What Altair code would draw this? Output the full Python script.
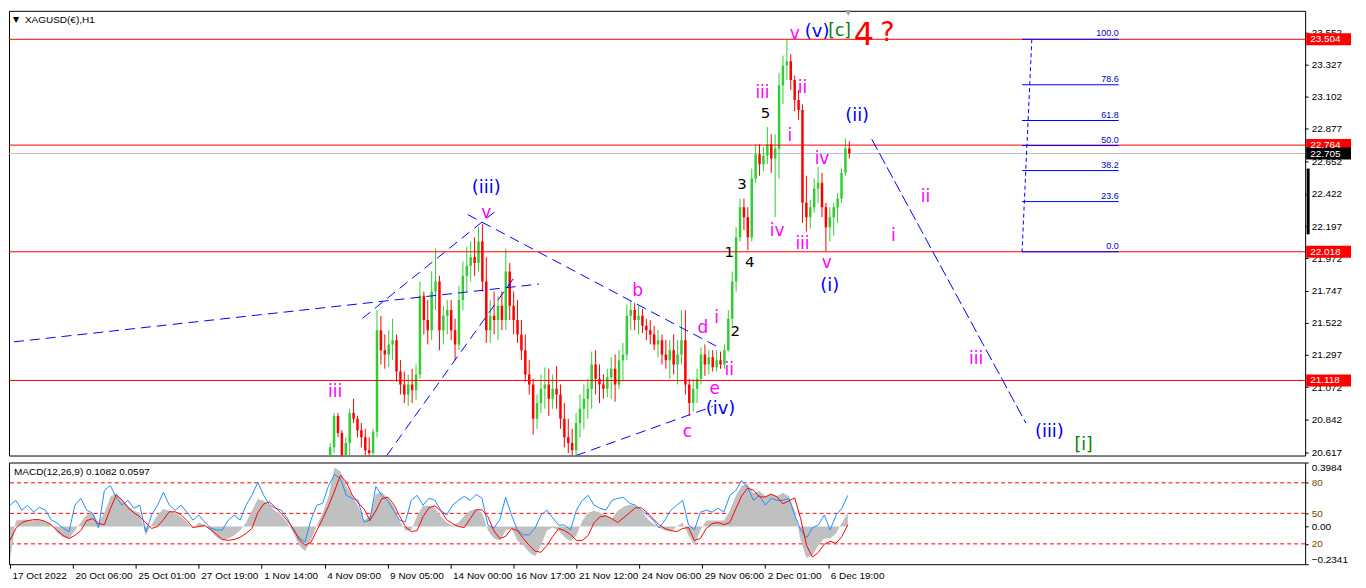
import altair as alt
import pandas as pd

# ---------------- price candles (H1 bars, grouped by 4) ----------------
candle_bar = list(range(323, 856, 4))
c_open = [20.44, 20.65, 20.87, 20.75, 20.59, 20.68, 20.89, 20.85, 20.77, 20.72,
          20.63, 20.61, 20.76, 21.47, 21.33, 21.30, 21.37, 21.40, 21.18, 21.09,
          21.02, 21.09, 21.05, 21.16, 21.71, 21.54, 21.47, 21.74, 21.81, 21.47,
          21.57, 21.61, 21.47, 21.37, 21.68, 21.85, 21.92, 21.98, 21.94, 22.09,
          21.81, 21.47, 21.57, 21.54, 21.64, 21.54, 21.88, 21.64, 21.54, 21.44,
          21.33, 21.16, 21.09, 20.85, 20.96, 21.06, 21.09, 20.99, 21.06, 21.02,
          20.85, 20.72, 20.68, 20.63, 20.82, 20.92, 20.99, 21.06, 21.23, 21.13,
          21.09, 21.06, 21.14, 21.20, 21.09, 21.26, 21.30, 21.57, 21.61, 21.54,
          21.57, 21.50, 21.47, 21.44, 21.37, 21.40, 21.30, 21.26, 21.33, 21.23,
          21.30, 21.40, 21.09, 20.96, 21.06, 21.13, 21.30, 21.23, 21.28, 21.21,
          21.26, 21.23, 21.33, 21.55, 21.81, 22.12, 22.33, 22.26, 22.12, 22.53,
          22.70, 22.63, 22.69, 22.77, 22.67, 22.74, 23.18, 23.32, 23.35, 23.22,
          23.08, 23.01, 22.36, 22.26, 22.33, 22.46, 22.50, 22.33, 22.19, 22.26,
          22.33, 22.39, 22.57, 22.74]
c_high = [20.68, 20.89, 20.89, 20.77, 20.72, 20.92, 20.99, 20.87, 20.82, 20.78,
          20.72, 20.78, 21.61, 21.57, 21.44, 21.47, 21.55, 21.44, 21.26, 21.18,
          21.16, 21.20, 21.23, 21.81, 21.74, 21.68, 21.88, 22.04, 21.85, 21.64,
          21.68, 21.68, 21.55, 21.78, 21.95, 22.05, 22.09, 22.12, 22.19, 22.21,
          21.98, 21.68, 21.74, 21.71, 21.74, 22.04, 21.94, 21.74, 21.68, 21.54,
          21.44, 21.26, 21.13, 21.02, 21.16, 21.21, 21.20, 21.16, 21.22, 21.09,
          20.96, 20.85, 20.78, 20.89, 21.02, 21.09, 21.13, 21.32, 21.33, 21.23,
          21.16, 21.20, 21.28, 21.30, 21.33, 21.38, 21.65, 21.68, 21.66, 21.64,
          21.62, 21.55, 21.54, 21.50, 21.47, 21.44, 21.40, 21.40, 21.44, 21.40,
          21.61, 21.61, 21.13, 21.13, 21.20, 21.35, 21.37, 21.33, 21.33, 21.33,
          21.32, 21.37, 21.61, 21.88, 22.19, 22.39, 22.39, 22.33, 22.60, 22.77,
          22.77, 22.75, 22.89, 22.84, 22.84, 23.27, 23.39, 23.50, 23.40, 23.25,
          23.15, 23.05, 22.55, 22.38, 22.53, 22.61, 22.57, 22.36, 22.33, 22.36,
          22.43, 22.60, 22.81, 22.79]
c_low = [20.41, 20.61, 20.72, 20.54, 20.51, 20.59, 20.82, 20.72, 20.65, 20.59,
         20.54, 20.58, 20.72, 21.23, 21.20, 21.21, 21.26, 21.11, 21.02, 20.96,
         20.94, 20.96, 20.98, 21.13, 21.44, 21.37, 21.40, 21.61, 21.33, 21.37,
         21.44, 21.40, 21.26, 21.33, 21.61, 21.74, 21.81, 21.85, 21.88, 21.74,
         21.38, 21.38, 21.44, 21.40, 21.47, 21.47, 21.54, 21.44, 21.38, 21.26,
         21.11, 21.02, 20.74, 20.78, 20.89, 20.92, 20.87, 20.92, 20.92, 20.78,
         20.65, 20.61, 20.59, 20.59, 20.72, 20.78, 20.85, 20.92, 21.02, 20.96,
         20.99, 21.00, 20.99, 20.97, 21.06, 21.11, 21.26, 21.47, 21.47, 21.44,
         21.45, 21.40, 21.37, 21.33, 21.28, 21.23, 21.20, 21.13, 21.16, 21.09,
         21.23, 21.02, 20.87, 20.90, 20.96, 21.09, 21.15, 21.16, 21.18, 21.18,
         21.20, 21.20, 21.32, 21.50, 21.74, 22.09, 22.17, 22.03, 22.09, 22.50,
         22.55, 22.58, 22.63, 22.57, 22.26, 22.53, 23.05, 23.22, 23.15, 23.00,
         22.94, 22.22, 22.16, 22.18, 22.29, 22.36, 22.26, 22.02, 22.09, 22.13,
         22.22, 22.36, 22.55, 22.67]
c_close = [20.65, 20.87, 20.75, 20.59, 20.68, 20.89, 20.85, 20.77, 20.72, 20.63,
           20.61, 20.76, 21.47, 21.33, 21.30, 21.37, 21.40, 21.18, 21.09, 21.02,
           21.09, 21.05, 21.16, 21.71, 21.54, 21.47, 21.74, 21.81, 21.47, 21.57,
           21.61, 21.47, 21.37, 21.68, 21.85, 21.92, 21.98, 21.94, 22.09, 21.81,
           21.47, 21.57, 21.54, 21.64, 21.54, 21.88, 21.64, 21.54, 21.44, 21.33,
           21.16, 21.09, 20.85, 20.96, 21.06, 21.09, 20.99, 21.06, 21.02, 20.85,
           20.72, 20.68, 20.63, 20.82, 20.92, 20.99, 21.06, 21.23, 21.13, 21.09,
           21.06, 21.14, 21.20, 21.09, 21.26, 21.30, 21.57, 21.61, 21.54, 21.57,
           21.50, 21.47, 21.44, 21.37, 21.40, 21.30, 21.26, 21.33, 21.23, 21.30,
           21.40, 21.09, 20.96, 21.06, 21.13, 21.30, 21.23, 21.28, 21.21, 21.26,
           21.23, 21.33, 21.55, 21.81, 22.12, 22.33, 22.26, 22.12, 22.53, 22.70,
           22.63, 22.69, 22.77, 22.67, 22.74, 23.18, 23.32, 23.35, 23.22, 23.08,
           23.01, 22.36, 22.26, 22.33, 22.46, 22.50, 22.33, 22.19, 22.26, 22.33,
           22.39, 22.57, 22.74, 22.705]

# ---------------- MACD panel (sampled every 6 bars) ----------------
macd_bar = list(range(0, 853, 6))
macd_hist = [-0.209, 0.037, 0.043, 0.043, 0.037, 0.043, 0.031, 0.012, -0.037, -0.067,
             -0.074, -0.025, 0.025, 0.074, 0.086, 0.025, 0.086, 0.184, 0.209, 0.160,
             0.129, 0.098, 0.086, -0.055, 0.012, 0.074, 0.110, 0.098, 0.086, 0.061,
             0.025, -0.012, 0.025, 0.012, -0.025, -0.067, -0.086, -0.074, -0.055, -0.025,
             0.025, 0.098, 0.172, 0.160, 0.129, 0.098, 0.067, 0.025, -0.037, -0.117,
             -0.153, -0.086, 0.006, 0.086, 0.190, 0.368, 0.344, 0.252, 0.190, 0.129,
             0.037, 0.067, 0.202, 0.215, 0.178, 0.129, 0.037, -0.025, -0.025, 0.067,
             0.129, 0.129, 0.117, 0.067, 0.025, 0.006, 0.025, 0.067, 0.098, 0.110,
             0.086, -0.025, -0.074, -0.086, -0.025, -0.012, -0.086, -0.117, -0.160, -0.184,
             -0.117, -0.025, -0.006, -0.025, -0.067, -0.092, -0.055, 0.037, 0.086, 0.098,
             0.086, 0.067, 0.049, 0.098, 0.123, 0.135, 0.129, 0.098, 0.049, 0.018,
             -0.006, -0.025, -0.031, 0.000, 0.025, -0.055, -0.117, -0.025, 0.037, 0.037,
             0.037, 0.037, 0.098, 0.190, 0.252, 0.264, 0.209, 0.221, 0.190, 0.202,
             0.190, 0.209, 0.190, 0.098, -0.086, -0.196, -0.178, -0.117, -0.074, -0.074,
             -0.043, 0.025, 0.086]
macd_signal = [-0.086, -0.012, 0.025, 0.037, 0.043, 0.043, 0.031, 0.012, -0.025, -0.055,
               -0.074, -0.055, -0.025, 0.037, 0.049, 0.018, 0.012, 0.110, 0.196, 0.166,
               0.117, 0.086, 0.061, 0.025, -0.012, 0.000, 0.043, 0.092, 0.092, 0.074,
               0.037, -0.006, 0.000, 0.006, -0.018, -0.049, -0.080, -0.086, -0.080, -0.067,
               -0.043, -0.012, 0.086, 0.141, 0.153, 0.117, 0.080, 0.037, -0.012, -0.080,
               -0.117, -0.098, -0.025, 0.049, 0.129, 0.221, 0.319, 0.276, 0.196, 0.147,
               0.110, 0.037, 0.098, 0.172, 0.184, 0.141, 0.067, 0.000, -0.031, -0.025,
               0.061, 0.117, 0.129, 0.098, 0.043, 0.018, 0.000, -0.006, 0.049, 0.104,
               0.104, 0.061, -0.025, -0.074, -0.061, -0.012, -0.025, -0.074, -0.117, -0.153,
               -0.160, -0.117, -0.061, -0.012, -0.025, -0.049, -0.086, -0.086, -0.055, 0.025,
               0.061, 0.067, 0.049, 0.025, 0.055, 0.086, 0.117, 0.117, 0.086, 0.049,
               0.012, -0.012, -0.025, -0.031, -0.012, -0.006, -0.086, -0.074, -0.012, 0.018,
               0.025, 0.012, 0.025, 0.110, 0.190, 0.239, 0.227, 0.184, 0.184, 0.202,
               0.184, 0.141, 0.160, 0.178, 0.049, -0.117, -0.190, -0.160, -0.110, -0.092,
               -0.104, -0.061, 0.012]
osc_line = [58.0, 62.8, 53.1, 58.0, 51.2, 56.0, 53.1, 43.4, 40.5, 35.6,
            31.7, 58.0, 64.8, 53.1, 50.2, 35.6, 72.5, 77.4, 65.7, 58.0,
            62.8, 55.0, 58.0, 31.7, 48.3, 58.0, 70.6, 58.0, 53.1, 58.0,
            51.2, 43.4, 48.3, 41.5, 35.6, 33.7, 33.7, 43.4, 48.3, 43.4,
            58.0, 67.7, 80.3, 67.7, 58.0, 55.0, 53.1, 45.3, 33.7, 25.9,
            22.0, 43.4, 58.0, 59.9, 77.4, 88.1, 84.2, 67.7, 64.8, 62.8,
            41.5, 43.4, 76.4, 67.7, 62.8, 53.1, 43.4, 41.5, 62.8, 67.7,
            58.0, 64.8, 62.8, 53.1, 48.3, 58.0, 62.8, 66.7, 62.8, 68.6,
            64.8, 38.5, 35.6, 43.4, 65.7, 48.3, 33.7, 28.8, 28.8, 35.6,
            48.3, 53.1, 45.3, 38.5, 38.5, 33.7, 53.1, 62.8, 67.7, 58.0,
            55.0, 53.1, 62.8, 64.8, 65.7, 59.9, 58.0, 53.1, 48.3, 43.4,
            35.6, 43.4, 53.1, 58.0, 62.8, 38.5, 33.7, 51.2, 53.1, 51.2,
            55.0, 51.2, 67.7, 72.5, 82.2, 75.4, 62.8, 67.7, 58.0, 64.8,
            62.8, 62.8, 64.8, 48.3, 33.7, 25.9, 35.6, 38.5, 48.3, 33.7,
            48.3, 55.0, 67.7]
osc_levels = [80, 50, 20]
macd_ticks = [0.3984, 0.0, -0.2341]

# ---------------- levels, ticks, labels ----------------
level_prices = [23.504, 22.764, 22.018, 21.118]
current_price = [22.705]
price_ticks = [23.552, 23.327, 23.102, 22.877, 22.652, 22.422, 22.197,
               21.972, 21.747, 21.522, 21.297, 21.072, 20.842, 20.617]
time_tick_bars = [0, 64, 128, 192, 256, 320, 384, 448, 512, 576, 640, 704, 768, 832]
time_tick_labels = ['17 Oct 2022', '20 Oct 06:00', '25 Oct 01:00', '27 Oct 19:00',
                    '1 Nov 14:00', '4 Nov 09:00', '9 Nov 05:00', '14 Nov 00:00',
                    '16 Nov 17:00', '21 Nov 12:00', '24 Nov 06:00', '29 Nov 06:00',
                    '2 Dec 01:00', '6 Dec 19:00']
scroll_marker = [22.60, 22.14]

fib_names = ['100.0', '78.6', '61.8', '50.0', '38.2', '23.6', '0.0']
fib_prices = [23.504, 23.186, 22.936, 22.761, 22.586, 22.369, 22.018]
fib_from = [1032] * 7
fib_to = [1131] * 7
fib_diag_bar = [1042, 1032]
fib_diag_price = [23.504, 22.018]

tl_bar1 = [-1, 356, 381, 464, 575]
tl_p1 = [21.388, 21.552, 20.593, 22.278, 20.593]
tl_bar2 = [537, 493, 511, 722, 715]
tl_p2 = [21.792, 22.305, 21.833, 21.346, 20.936]
proj_bar = [878, 1036]
proj_price = [22.805, 20.819]

mag_text = ['iii', 'v', 'b', 'd', 'i', 'ii', 'e', 'c', 'iii', 'ii', 'i', 'iv', 'iv',
            'iii', 'v', 'v', 'i', 'ii', 'iii']
mag_bar = [328, 483, 638, 705, 719, 732, 717, 689, 766, 807, 794, 827, 781,
           807, 832, 799, 900, 933, 985]
mag_price = [21.038, 22.292, 21.744, 21.483, 21.552, 21.189, 21.059, 20.757, 23.127,
             23.162, 22.826, 22.668, 22.162, 22.072, 21.936, 23.538, 22.127, 22.401, 21.271]
blue_text = ['(iii)', '(iv)', '(v)', '(ii)', '(i)', '(iii)']
blue_bar = [483, 723, 822, 863, 835, 1060]
blue_price = [22.463, 20.915, 23.552, 22.970, 21.778, 20.757]
num_text = ['1', '2', '3', '4', '5']
num_bar = [732, 738, 745, 753, 769]
num_price = [22.018, 21.463, 22.490, 21.949, 22.990]
grn_text = ['[c]', '[i]']
grn_bar = [845, 1095]
grn_price = [23.562, 20.668]
red_text = ['4', '?']
red_bar = [870, 894]
red_price = [23.535, 23.545]
red_size = [32, 27]

# ---------------- chart ----------------
W, H, HM = 1300, 446, 102
FONT = 'Liberation Sans'
LFONT = 'DejaVu Sans'

xs = alt.Scale(domain=[-1, 1317], nice=False, zero=False)
ys = alt.Scale(domain=[20.593, 23.703], nice=False, zero=False)
price_axis = alt.Axis(orient='right', values=price_ticks, format='.3f', title=None,
                      tickSize=3, tickColor='black', labelPadding=3, labelFont=FONT,
                      labelFontSize=10, labelColor='black', domain=False, grid=False,
                      labelOverlap=False)


def X(f):
    return alt.X(f'{f}:Q', scale=xs, axis=None, title=None)


def Y(f):
    return alt.Y(f'{f}:Q', scale=ys, axis=price_axis, title=None)


candles = pd.DataFrame({'bar': candle_bar, 'open': c_open, 'high': c_high,
                        'low': c_low, 'close': c_close})
candles['dir'] = ['up' if c >= o else 'down' for o, c in zip(c_open, c_close)]
ccol = alt.Color('dir:N', scale=alt.Scale(domain=['up', 'down'], range=['#32CD32', '#FF0000']),
                 legend=None)

gray_line = alt.Chart(pd.DataFrame({'price': current_price})).mark_rule(
    color='#C0C0C0', strokeWidth=1).encode(y=Y('price'))
wicks = alt.Chart(candles).mark_rule(strokeWidth=1, clip=True).encode(
    x=X('bar'), y=Y('low'), y2='high:Q', color=ccol)
bodies = alt.Chart(candles).mark_bar(width=2.5, clip=True).encode(
    x=X('bar'), y=Y('open'), y2='close:Q', color=ccol)
red_lines = alt.Chart(pd.DataFrame({'price': level_prices})).mark_rule(
    color='#FF0000', strokeWidth=1).encode(y=Y('price'))

tl_df = pd.DataFrame({'b1': tl_bar1, 'p1': tl_p1, 'b2': tl_bar2, 'p2': tl_p2})
trend = alt.Chart(tl_df).mark_rule(color='#0000FF', strokeWidth=1, strokeDash=[10, 6],
                                   clip=True).encode(x=X('b1'), x2='b2:Q', y=Y('p1'), y2='p2:Q')
proj_df = pd.DataFrame({'b1': [proj_bar[0]], 'p1': [proj_price[0]],
                        'b2': [proj_bar[1]], 'p2': [proj_price[1]]})
proj = alt.Chart(proj_df).mark_rule(color='#0000FF', strokeWidth=1, strokeDash=[12, 4]).encode(
    x=X('b1'), x2='b2:Q', y=Y('p1'), y2='p2:Q')

fib_df = pd.DataFrame({'name': fib_names, 'price': fib_prices, 'b1': fib_from, 'b2': fib_to})
fib_lines = alt.Chart(fib_df).mark_rule(color='#0000FF', strokeWidth=1).encode(
    x=X('b1'), x2='b2:Q', y=Y('price'))
fib_text = alt.Chart(fib_df).mark_text(align='right', baseline='bottom', dy=-1, font=FONT,
                                       fontSize=9, color='#0000C0').encode(
    x=X('b2'), y=Y('price'), text='name:N')
fd_df = pd.DataFrame({'b1': [fib_diag_bar[0]], 'p1': [fib_diag_price[0]],
                      'b2': [fib_diag_bar[1]], 'p2': [fib_diag_price[1]]})
fib_diag = alt.Chart(fd_df).mark_rule(color='#0000FF', strokeWidth=1, strokeDash=[4, 3]).encode(
    x=X('b1'), x2='b2:Q', y=Y('p1'), y2='p2:Q')


def labels(texts, bars, prices, color, size):
    df = pd.DataFrame({'t': texts, 'bar': bars, 'price': prices})
    return alt.Chart(df).mark_text(font=LFONT, fontSize=size, color=color, align='center',
                                   baseline='middle').encode(x=X('bar'), y=Y('price'), text='t:N')


mag = labels(mag_text, mag_bar, mag_price, '#FF00FF', 17)
blu = labels(blue_text, blue_bar, blue_price, '#0000FF', 18)
num = labels(num_text, num_bar, num_price, '#000000', 15)
grn = labels(grn_text, grn_bar, grn_price, '#008000', 17)
red_df = pd.DataFrame({'t': red_text, 'bar': red_bar, 'price': red_price, 's': red_size})
red_lbl = alt.Chart(red_df).mark_text(font=LFONT, color='#FF0000', align='center',
                                      baseline='middle').encode(
    x=X('bar'), y=Y('price'), text='t:N', size=alt.Size('s:Q', scale=None, legend=None))

lvl_box_df = pd.DataFrame({'price': level_prices,
                           'label': [f'{p:.3f}' for p in level_prices]})
cur_box_df = pd.DataFrame({'price': current_price,
                           'label': [f'{p:.3f}' for p in current_price]})
lvl_boxes = alt.Chart(lvl_box_df).mark_rule(strokeWidth=12, color='#FF0000', clip=False).encode(
    x=alt.value(W + 1), x2=alt.value(W + 46), y=Y('price'))
cur_boxes = alt.Chart(cur_box_df).mark_rule(strokeWidth=12, color='#000000', clip=False).encode(
    x=alt.value(W + 1), x2=alt.value(W + 46), y=Y('price'))
lvl_text = alt.Chart(lvl_box_df).mark_text(align='left', baseline='middle', font=FONT, fontSize=10,
                                           color='white', clip=False).encode(
    x=alt.value(W + 5), y=Y('price'), text='label:N')
cur_text = alt.Chart(cur_box_df).mark_text(align='left', baseline='middle', font=FONT, fontSize=10,
                                           color='white', clip=False).encode(
    x=alt.value(W + 5), y=Y('price'), text='label:N')
scroll = alt.Chart(pd.DataFrame({'a': [scroll_marker[0]], 'b': [scroll_marker[1]]})).mark_rule(
    color='black', strokeWidth=3, clip=False).encode(x=alt.value(W + 3), y=Y('a'), y2='b:Q')

title_df = pd.DataFrame({'t': ['XAGUSD(€),H1'], 'arrow': ['▼']})
title = alt.Chart(title_df).mark_text(align='left', baseline='middle', font=FONT, fontSize=10,
                                      color='black').encode(x=alt.value(16), y=alt.value(9), text='t:N')
arrow = alt.Chart(title_df).mark_text(align='left', baseline='middle', font=LFONT, fontSize=8,
                                      color='black').encode(x=alt.value(4), y=alt.value(9), text='arrow:N')
shift_df = pd.DataFrame({'bar': [854]})
shift = alt.Chart(shift_df).mark_point(shape='triangle-down', filled=True, size=45, color='#A0A0A0',
                                       opacity=1, clip=False).encode(x=X('bar'), y=alt.value(2))

main = alt.layer(gray_line, wicks, bodies, red_lines, trend, proj, fib_lines, fib_diag, fib_text,
                 mag, blu, num, grn, red_lbl, lvl_boxes, cur_boxes, lvl_text, cur_text, scroll,
                 title, arrow, shift).properties(width=W, height=H)

# ---------------- MACD panel ----------------
macd_df = pd.DataFrame({'bar': macd_bar, 'hist': macd_hist, 'signal': macd_signal,
                        'osc': osc_line})
macd_df['zero'] = 0.0
ms = alt.Scale(domain=[-0.2341, 0.3984], nice=False, zero=False)
oscs = alt.Scale(domain=[0, 100], nice=False, zero=False)
label_map = '{' + ','.join(f"'{b}':'{l}'" for b, l in zip(time_tick_bars, time_tick_labels)) + '}[datum.value]'
time_axis = alt.Axis(orient='bottom', values=time_tick_bars, labelExpr=label_map, title=None,
                     tickSize=4, tickColor='black', labelAlign='left', labelPadding=2,
                     labelOffset=2, labelFont=FONT, labelFontSize=10, labelColor='black',
                     domain=False, grid=False, labelOverlap=False, labelFlush=False,
                     labelBound=False)
macd_axis = alt.Axis(orient='right', values=macd_ticks,
                     labelExpr="datum.value == 0 ? '0.00' : format(datum.value, '.4f')",
                     title=None, tickSize=3, tickColor='black', labelPadding=3, labelFont=FONT,
                     labelFontSize=10, labelColor='black', domain=False, grid=False,
                     labelFlush=True, labelOverlap=False)
osc_axis = alt.Axis(orient='right', values=osc_levels, format='d', title=None, tickSize=3,
                    tickColor='black', labelPadding=3, labelFont=FONT, labelFontSize=10,
                    labelColor='#7A4A00', domain=False, grid=False, labelOverlap=False)


def XM(f):
    return alt.X(f'{f}:Q', scale=xs, axis=time_axis, title=None)


lvl = alt.Chart(pd.DataFrame({'lvl': osc_levels})).mark_rule(
    color='#FF0000', strokeWidth=1, strokeDash=[4, 3]).encode(
    y=alt.Y('lvl:Q', scale=oscs, axis=osc_axis, title=None))
hist = alt.Chart(macd_df).mark_area(color='#C0C0C0', clip=True).encode(
    x=XM('bar'), y=alt.Y('hist:Q', scale=ms, axis=macd_axis, title=None), y2='zero:Q')
osc = alt.Chart(macd_df).mark_line(color='#1E90FF', strokeWidth=1, clip=True).encode(
    x=XM('bar'), y=alt.Y('osc:Q', scale=oscs, axis=None, title=None))
sig = alt.Chart(macd_df).mark_line(color='#FF0000', strokeWidth=1, clip=True).encode(
    x=XM('bar'), y=alt.Y('signal:Q', scale=ms, axis=None, title=None))
mt_df = pd.DataFrame({'t': ['MACD(12,26,9) 0.1082 0.0597']})
mtitle = alt.Chart(mt_df).mark_text(align='left', baseline='middle', font=FONT, fontSize=10,
                                    color='black').encode(x=alt.value(5), y=alt.value(10), text='t:N')

macd = alt.layer(lvl, hist, osc, sig, mtitle).resolve_scale(y='independent').properties(
    width=W, height=HM)

chart = alt.vconcat(main, macd, spacing=3).properties(
    padding=0, background='white'
).configure_view(stroke='black', strokeWidth=1)

chart.save('out.html', embed_options={'renderer': 'svg', 'actions': False})
